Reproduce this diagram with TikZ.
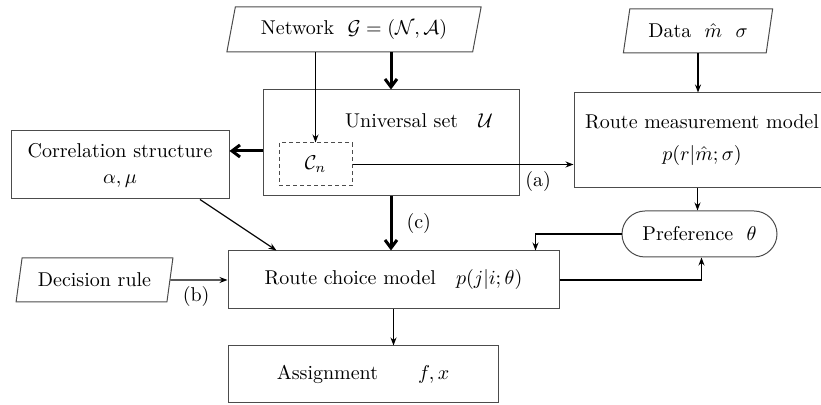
\documentclass[tikz,border=0pt]{standalone}
\usepackage{amsmath,amssymb}
\usetikzlibrary{shapes.geometric,shapes.misc,arrows.meta}
\begin{document}
\begin{tikzpicture}[x=0.5pt,y=-0.5pt,
  box/.style={draw=black!70,line width=0.5pt,rectangle,inner sep=0pt,align=center},
  para/.style={draw=black!70,line width=0.5pt,trapezium,trapezium left angle=71.6,trapezium right angle=108.4,trapezium stretches=true,inner sep=0pt},
  term/.style={draw=black!70,line width=0.5pt,rounded rectangle,inner sep=0pt},
  thin/.style={line width=0.6pt,-{Stealth[length=4pt,width=3pt]}},
  thickarr/.style={line width=1.5pt,-{Straight Barb[length=4pt,width=6pt]}},
  lab/.style={inner sep=0pt}]
\useasboundingbox (0,0) rectangle (821,405);
\node[para,minimum width=127.5pt,minimum height=22.5pt] (net) at (354,29.5) {Network\ \ $\mathcal{G}=(\mathcal{N},\mathcal{A})$};
\node[box,minimum width=128pt,minimum height=53pt] (U) at (391,143) {};
\node[lab] (ut) at (419,121) {Universal set\quad $\mathcal{U}$};
\node[box,dash pattern=on 2pt off 1.5pt,minimum width=36.5pt,minimum height=21.5pt] (cn) at (315.5,164.5) {$\mathcal{C}_n$};
\node[box,minimum width=109pt,minimum height=34pt] (corr) at (120,165) {Correlation structure\\[1pt] $\alpha,\mu$};
\node[box,minimum width=128pt,minimum height=47.5pt] (rm) at (702,140.5) {Route measurement model\\[4pt] $p(r|\hat m;\sigma)$};
\node[para,minimum width=75pt,minimum height=22pt] (data) at (698,31) {Data\ \ $\hat m\ \ \sigma$};
\node[term,minimum width=77.5pt,minimum height=23pt] (pref) at (699.5,234) {Preference\ \ $\theta$};
\node[box,minimum width=165.5pt,minimum height=29pt] (rc) at (393.5,280) {Route choice model\quad $p(j|i;\theta)$};
\node[box,minimum width=135pt,minimum height=28.5pt] (as) at (363,374.5) {Assignment\qquad $f,x$};
\node[para,minimum width=78.5pt,minimum height=22pt] (dec) at (94.5,280) {Decision rule};
\draw[thin] (net.south -| cn.north) -- (cn.north);
\draw[thickarr] (net.south -| U.north) -- (U.north);
\draw[thickarr] ([yshift=-4pt]U.west) -- ([yshift=-4pt]U.west -| corr.east);
\draw[thin] (cn.east) -- (cn.east -| rm.west) node[lab,pos=0.84,below=3pt] (la) {(a)};
\draw[thin] (data.south) -- (data.south |- rm.north);
\draw[thin] ([xshift=-1pt]pref.north |- rm.south) -- ([xshift=-1pt]pref.north);
\draw[thin] (pref.west) -| ([xshift=-12pt]rc.north east);
\draw[thin] (rc.east) -| ([xshift=1pt]pref.south);
\draw[thickarr] (U.south) -- (U.south |- rc.north) node[lab,midway,right=7pt] (lc) {(c)};
\draw[thin] ([xshift=40pt]corr.south) -- ([xshift=24.5pt]rc.north west);
\draw[thin] (dec.east) -- (rc.west) node[lab,pos=0.45,below=3pt] (lb) {(b)};
\draw[thin] (rc.south) -- (rc.south |- as.north);
\end{tikzpicture}
\end{document}
